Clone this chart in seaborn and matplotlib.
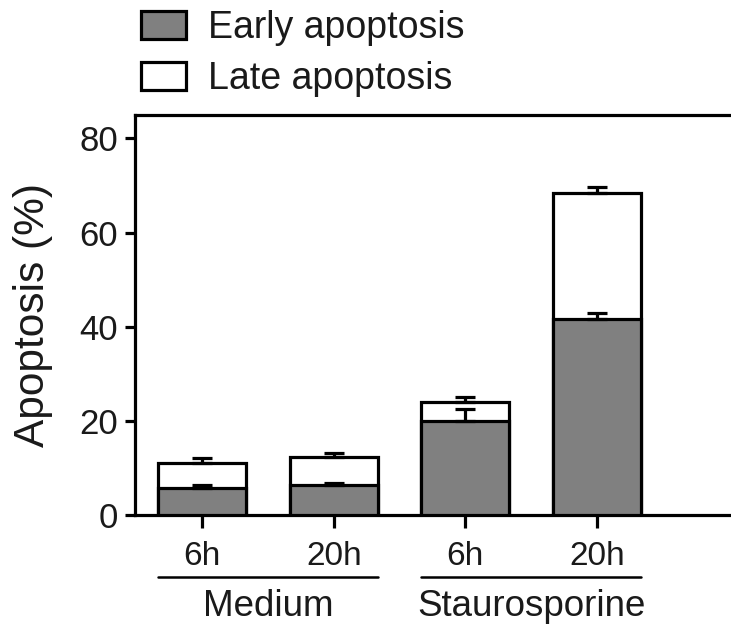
import matplotlib
matplotlib.use("Agg")
import matplotlib.pyplot as plt
import matplotlib.transforms as mtransforms
from matplotlib.patches import Patch
import seaborn as sns
import pandas as pd

# data
conditions = ["Medium 6h", "Medium 20h", "Staurosporine 6h", "Staurosporine 20h"]
time_labels = ["6h", "20h", "6h", "20h"]
groups = ["Medium", "Staurosporine"]
early = [5.8, 6.4, 19.9, 41.6]
early_err = [0.5, 0.5, 2.6, 1.3]
total = [11.0, 12.3, 24.1, 68.4]
total_err = [1.2, 0.8, 0.9, 1.3]

df = pd.DataFrame({"cond": conditions, "early": early, "total": total})

sns.set_style("ticks")
plt.rcParams["font.family"] = ["Liberation Sans", "DejaVu Sans"]
lw = 2.3
txt = "#1a1a1a"

fig = plt.figure(figsize=(7.31, 6.32), dpi=100)
ax = fig.add_axes([0.1847, 0.1851, 0.83, 0.633])

bar_w = 0.67
# white = total (late on top), gray = early part
sns.barplot(data=df, x="cond", y="total", color="white", edgecolor="black",
            linewidth=lw, width=bar_w, saturation=1, errorbar=None, ax=ax, zorder=2)
sns.barplot(data=df, x="cond", y="early", color="#808080", edgecolor="black",
            linewidth=lw, width=bar_w, saturation=1, errorbar=None, ax=ax, zorder=3)

x = range(len(conditions))
ax.errorbar(x, early, yerr=[[0] * 4, early_err], fmt="none", ecolor="black",
            elinewidth=lw, capsize=7.5, capthick=lw, zorder=4)
ax.errorbar(x, total, yerr=[[0] * 4, total_err], fmt="none", ecolor="black",
            elinewidth=lw, capsize=7.5, capthick=lw, zorder=4)

ax.set_ylim(0, 85)
ax.set_yticks([0, 20, 40, 60, 80])
ax.set_xlim(-0.51, 4.1)
ax.set_xticks(list(x))
ax.set_xticklabels(time_labels)
ax.set_xlabel("")
ax.set_ylabel("Apoptosis (%)", fontsize=30.5, color=txt)
ax.yaxis.set_label_coords(-0.135, 0.5)

for s in ["left", "bottom", "top"]:
    ax.spines[s].set_linewidth(lw)
    ax.spines[s].set_color("black")
ax.spines["right"].set_visible(False)
ax.tick_params(axis="y", labelsize=25, width=lw, length=7, pad=5,
               color="black", labelcolor=txt)
ax.tick_params(axis="x", labelsize=24, width=lw, length=9, pad=10,
               color="black", labelcolor=txt)

# group lines and labels
trans = mtransforms.blended_transform_factory(ax.transData, ax.transAxes)
for i, g in enumerate(groups):
    x0 = 2 * i - bar_w / 2
    x1 = 2 * i + 1 + bar_w / 2
    ax.plot([x0, x1], [-0.154, -0.154], color="black", lw=1.8,
            transform=trans, clip_on=False)
    ax.text(2 * i + 0.5, -0.228, g, transform=trans, ha="center", va="center",
            fontsize=26.5, color=txt)

handles = [Patch(facecolor="#808080", edgecolor="black", linewidth=lw),
           Patch(facecolor="white", edgecolor="black", linewidth=lw)]
leg = fig.legend(handles, ["Early apoptosis", "Late apoptosis"], loc="upper left",
                 bbox_to_anchor=(0.182, 0.996), frameon=False, fontsize=27,
                 handlelength=1.2, handleheight=0.75, handletextpad=0.6,
                 labelspacing=0.4, borderpad=0.2, borderaxespad=0)
for t in leg.get_texts():
    t.set_color(txt)

fig.savefig("out.png", dpi=100)
